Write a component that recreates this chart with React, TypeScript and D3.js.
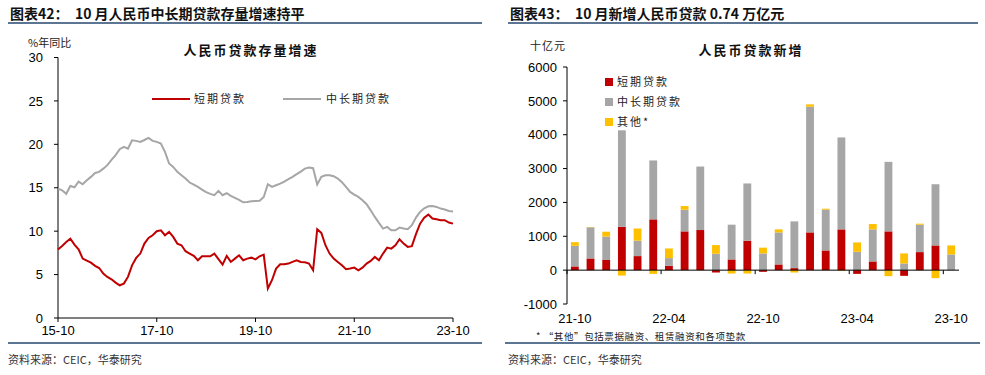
import React from "react"
import * as d3 from "d3"

// 人民币贷款存量增速（%年同比），15-10 至 23-10 月度
const shortGrowth = [
  7.9, 8.3, 8.76, 9.14, 8.45, 7.91, 6.84, 6.61, 6.38, 6.0, 5.76, 5.11, 4.73, 4.46, 4.08, 3.77, 3.96, 4.73, 6.07, 6.92,
  7.42, 8.57, 9.22, 9.53, 9.99, 10.1, 9.53, 9.91, 9.34, 8.57, 8.38, 7.69, 7.42, 7.15, 6.65, 7.11, 7.11, 7.11, 7.42, 6.77,
  6.15, 7.15, 6.46, 6.84, 7.22, 6.65, 6.84, 6.95, 6.75, 7.11, 7.3, 3.39, 4.35, 5.69, 6.19, 6.19, 6.27, 6.46, 6.65, 6.46,
  6.42, 6.27, 5.5, 10.22, 9.8, 8.38, 7.42, 6.84, 6.46, 6.08, 5.61, 5.69, 5.8, 5.5, 5.8, 6.27, 6.57, 7.03, 6.65, 7.42,
  8.11, 7.99, 8.38, 9.07, 8.57, 8.19, 8.27, 9.65, 10.87, 11.56, 11.91, 11.45, 11.37, 11.26, 11.26, 10.99, 10.87,
]
const longGrowth = [
  14.9, 14.7, 14.3, 15.2, 15.06, 15.7, 15.4, 15.86, 16.25, 16.7, 16.83, 17.2, 17.6, 18.2, 18.75, 19.44, 19.7, 19.5, 20.47, 20.4,
  20.28, 20.5, 20.74, 20.4, 20.28, 20.1, 19.13, 17.79, 17.4, 16.83, 16.44, 16.06, 15.6, 15.37, 15.1, 14.79, 14.5, 14.29, 14.14, 14.64,
  14.14, 14.37, 14.06, 13.83, 13.6, 13.33, 13.37, 13.45, 13.48, 13.5, 13.94, 15.4, 15.1, 15.29, 15.48, 15.71, 15.98, 16.25, 16.56, 16.86,
  17.2, 17.32, 17.25, 15.37, 16.25, 16.44, 16.44, 16.33, 16.06, 15.64, 15.1, 14.52, 14.21, 13.94, 13.56, 13.1, 12.4, 11.64, 10.95, 10.3,
  10.49, 10.1, 10.1, 10.41, 10.3, 10.22, 10.68, 11.56, 12.22, 12.64, 12.87, 12.9, 12.79, 12.6, 12.49, 12.33, 12.26,
]
const lineTickLabels = ["15-10", "17-10", "19-10", "21-10", "23-10"]
const lineYTicks = [0, 5, 10, 15, 20, 25, 30]

// 人民币贷款新增（十亿元）
const months = [
  "21-10", "21-11", "21-12", "22-01", "22-02", "22-03", "22-04", "22-05", "22-06", "22-07", "22-08", "22-09", "22-10",
  "22-11", "22-12", "23-01", "23-02", "23-03", "23-04", "23-05", "23-06", "23-07", "23-08", "23-09", "23-10",
]
const shortNew = [110, 345, 300, 1280, 415, 1500, 130, 1145, 1185, -70, 316, 870, -50, 168, 60, 1115, 582, 1204, -110, 257, 1145, -168, 533, 730, 0]
const longNew = [610, 920, 690, 2850, 455, 1740, 225, 640, 1875, 484, 1027, 1690, 494, 947, 1380, 3712, 1205, 2715, 543, 947, 2053, 197, 810, 1807, 464]
const otherNew = [106, 10, 145, -160, 360, -110, 285, 108, 0, 256, -100, -100, 170, 90, -70, 70, 28, -20, 276, 158, -178, 297, 29, -237, 266]
const barTickLabels = ["21-10", "22-04", "22-10", "23-04", "23-10"]
const barYTicks = [-1000, 0, 1000, 2000, 3000, 4000, 5000, 6000]

const seriesNames = ["短期贷款", "中长期贷款", "其他*"]
const RED = "#c00000"
const GRAY = "#a6a6a6"
const YELLOW = "#ffc000"
const RULE = "#5b7593"

const numFont = "'Liberation Sans', Arial, sans-serif"
const cnFont = "'Noto Sans CJK SC', sans-serif"

function LineChart() {
  const x = d3.scaleLinear().domain([0, shortGrowth.length - 1]).range([58, 453])
  const y = d3.scaleLinear().domain([0, 30]).range([318, 57.5])
  const line = d3.line<number>().x((_, i) => x(i)).y(d => y(d))

  return (
    <g>
      <text x={28} y={47} fontFamily={cnFont} fontSize={11} fill="#222">%年同比</text>
      <text x={251} y={55} textAnchor="middle" fontFamily={cnFont} fontSize={13} fontWeight={600} letterSpacing={2} fill="#111">人民币贷款存量增速</text>

      {/* y axis */}
      <line x1={x(0)} x2={x(0)} y1={y(30)} y2={y(0)} stroke="#000" />
      {lineYTicks.map(t => (
        <g key={t}>
          <line x1={x(0) - 4} x2={x(0)} y1={y(t)} y2={y(t)} stroke="#000" />
          <text x={x(0) - 15} y={y(t)} dy="0.36em" textAnchor="end" fontFamily={numFont} fontSize={13} fill="#000">{t}</text>
        </g>
      ))}

      {/* x axis */}
      <line x1={x(0)} x2={x(96)} y1={y(0)} y2={y(0)} stroke="#000" />
      {lineTickLabels.map((l, i) => (
        <g key={l}>
          <line x1={x(i * 24)} x2={x(i * 24)} y1={y(0)} y2={y(0) + 4} stroke="#000" />
          <text x={x(i * 24)} y={335} textAnchor="middle" fontFamily={numFont} fontSize={13} fill="#000">{l}</text>
        </g>
      ))}

      <path d={line(longGrowth) || ""} fill="none" stroke={GRAY} strokeWidth={2} />
      <path d={line(shortGrowth) || ""} fill="none" stroke={RED} strokeWidth={2} />

      {/* legend */}
      <line x1={152} x2={190} y1={99} y2={99} stroke={RED} strokeWidth={2} />
      <text x={194} y={103} fontFamily={cnFont} fontSize={11} letterSpacing={2} fill="#222">{seriesNames[0]}</text>
      <line x1={283} x2={321} y1={99} y2={99} stroke={GRAY} strokeWidth={2} />
      <text x={326} y={103} fontFamily={cnFont} fontSize={11} letterSpacing={2} fill="#222">{seriesNames[1]}</text>
    </g>
  )
}

function BarChart() {
  const rows = months.map((m, i) => ({ m, s: shortNew[i], l: longNew[i], o: otherNew[i] }))
  const stack = d3.stack<any>().keys(["s", "l", "o"]).offset(d3.stackOffsetDiverging)
  const layers = stack(rows)
  const colors = [RED, GRAY, YELLOW]

  const x = d3.scaleBand().domain(months).range([567, 959]).paddingInner(0.5).paddingOuter(0.25)
  const y = d3.scaleLinear().domain([-1000, 6000]).range([304, 67])
  const step = x.step()
  const edge = (m: string) => (x(m) as number) - (step - x.bandwidth()) / 2

  return (
    <g>
      <text x={530} y={50} fontFamily={cnFont} fontSize={11} letterSpacing={1} fill="#222">十亿元</text>
      <text x={751} y={55} textAnchor="middle" fontFamily={cnFont} fontSize={13} fontWeight={600} letterSpacing={2} fill="#111">人民币贷款新增</text>

      {layers.map((layer, k) =>
        layer.map((d, i) => (
          <rect key={k + "-" + i} x={x(months[i])} width={x.bandwidth()}
            y={y(Math.max(d[0], d[1]))} height={Math.abs(y(d[0]) - y(d[1]))} fill={colors[k]} />
        ))
      )}

      {/* y axis */}
      <line x1={567} x2={567} y1={y(6000)} y2={y(-1000)} stroke="#000" />
      {barYTicks.map(t => (
        <g key={t}>
          <line x1={563} x2={567} y1={y(t)} y2={y(t)} stroke="#000" />
          <text x={557} y={y(t)} dy="0.36em" textAnchor="end" fontFamily={numFont} fontSize={13} fill="#000">{t}</text>
        </g>
      ))}

      {/* x axis */}
      <line x1={567} x2={959} y1={y(0)} y2={y(0)} stroke="#000" />
      {barTickLabels.map(l => (
        <g key={l}>
          <line x1={edge(l)} x2={edge(l)} y1={y(0)} y2={y(0) + 4} stroke="#000" />
          <text x={(x(l) as number) + x.bandwidth() / 2} y={323} textAnchor="middle" fontFamily={numFont} fontSize={13} fill="#000">{l}</text>
        </g>
      ))}

      {/* legend */}
      {seriesNames.map((n, i) => (
        <g key={n}>
          <rect x={605} y={78 + i * 20} width={8} height={8} fill={colors[i]} />
          <text x={617} y={86 + i * 20} fontFamily={cnFont} fontSize={11} letterSpacing={2} fill="#222">{n}</text>
        </g>
      ))}

      <text x={536} y={339.5} fontFamily={cnFont} fontSize={9.5} letterSpacing={0.6} fill="#222">*  “其他”包括票据融资、租赁融资和各项垫款</text>
    </g>
  )
}

export default function App() {
  return (
    <svg width={985} height={375} style={{ position: "absolute", left: 0, top: 0, background: "#fff" }}>
      <text x={10} y={19} fontFamily={cnFont} fontSize={14} fontWeight={700} fill="#111" xmlSpace="preserve">图表42：  10 月人民币中长期贷款存量增速持平</text>
      <line x1={8} x2={482} y1={23} y2={23} stroke={RULE} strokeWidth={2} />
      <text x={510} y={19} fontFamily={cnFont} fontSize={14} fontWeight={700} fill="#111" xmlSpace="preserve">图表43：  10 月新增人民币贷款 0.74 万亿元</text>
      <line x1={508} x2={978} y1={23} y2={23} stroke={RULE} strokeWidth={2} />

      <LineChart />
      <BarChart />

      <line x1={8} x2={482} y1={343} y2={343} stroke={RULE} strokeWidth={2} />
      <line x1={505} x2={980} y1={343} y2={343} stroke={RULE} strokeWidth={2} />
      <text x={8} y={364} fontFamily={cnFont} fontSize={11} fill="#333">资料来源：CEIC，华泰研究</text>
      <text x={508} y={364} fontFamily={cnFont} fontSize={11} fill="#333">资料来源：CEIC，华泰研究</text>
    </svg>
  )
}
